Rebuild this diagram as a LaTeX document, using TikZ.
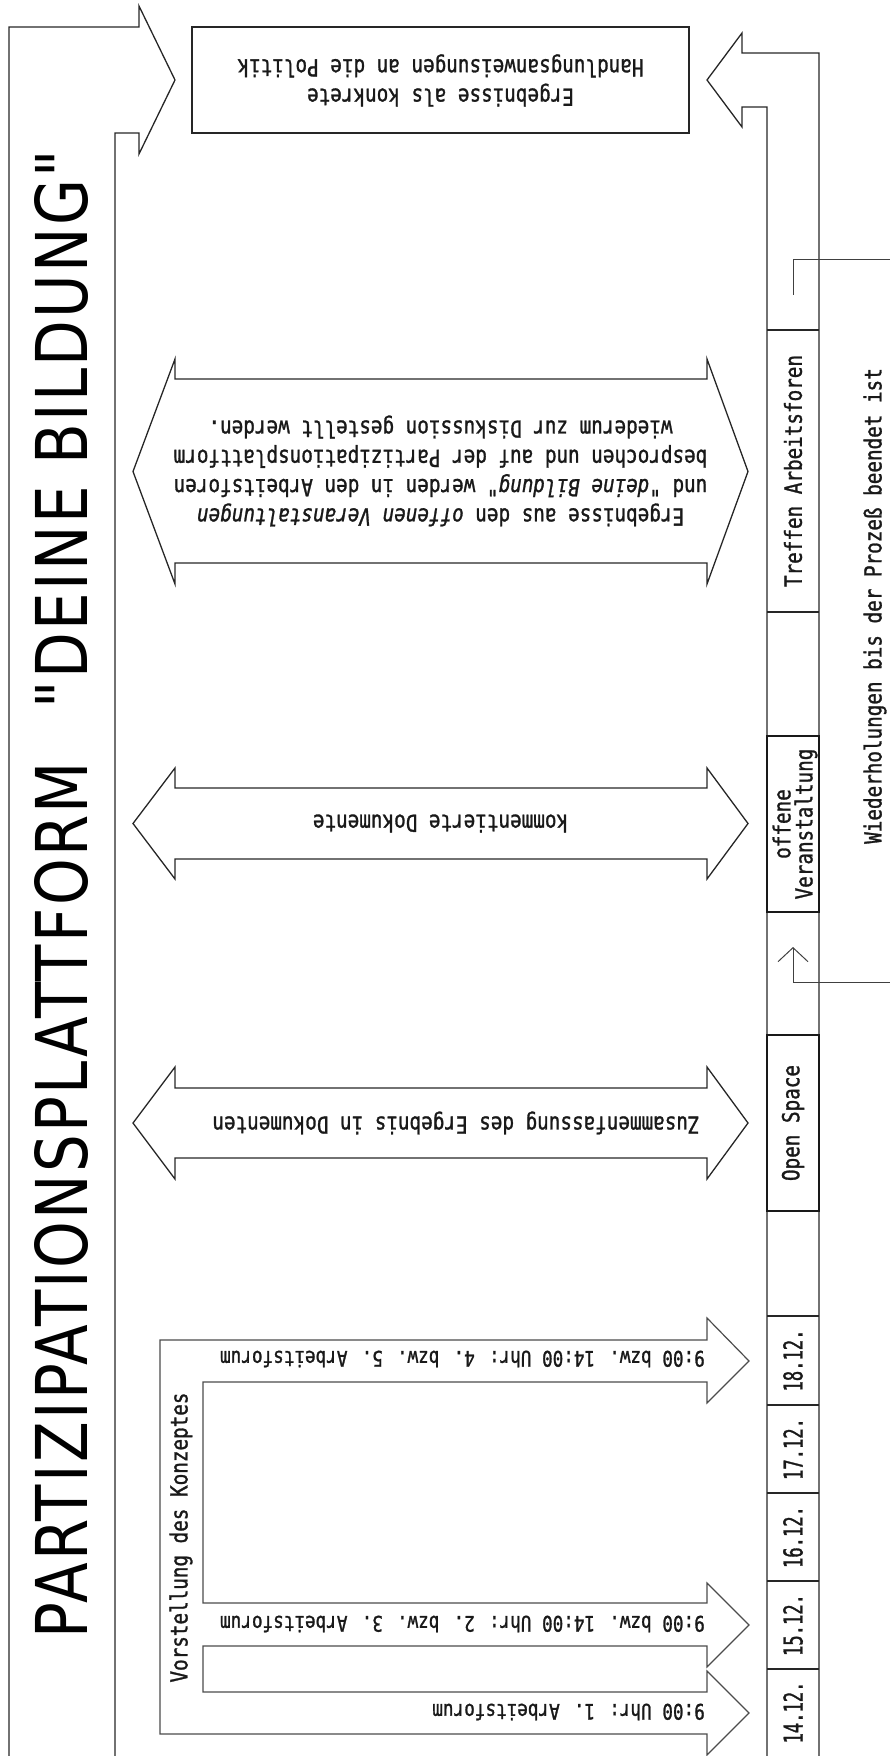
\documentclass[tikz,border=0pt]{standalone}
\usepackage{fontspec}
\usepackage{graphicx}
\usetikzlibrary{arrows.meta}
\newfontfamily\isofont[FakeStretch=0.82,FakeBold=1.2]{DejaVu Sans Mono}
\newfontfamily\isodate[FakeStretch=0.66,FakeBold=1.2]{DejaVu Sans Mono}
\newfontfamily\titlefont[LetterSpace=4]{DejaVu Sans}
\begin{document}
\begin{tikzpicture}[x=1pt,y=-1pt,
  outl/.style={draw=black!85, line width=1.3pt, line join=miter},
  combo/.style={draw=black!70, line width=1.2pt, line join=miter},
  cellthick/.style={draw=black!90, line width=2.2pt},
  conn/.style={draw=black!75, line width=1pt},
  lbl/.style={font=\isofont\fontsize{23.5}{29.3}\selectfont, inner sep=0pt, align=center, text=black!90},
  arrlbl/.style={font=\isofont\fontsize{21.5}{27}\selectfont, inner sep=0pt, text=black!90},
  datelbl/.style={font=\isodate\fontsize{26}{30}\selectfont, inner sep=0pt, text=black!90},
]
\useasboundingbox (0,0) rectangle (890,1756);

% title arrow
\draw[outl] (9,1757) -- (9,27) -- (139,27) -- (139,6) -- (175,80) -- (139,154) -- (139,133) -- (115,133) -- (115,1757);
\node[rotate=90, inner sep=0pt] (title) at (61.5,894) {\resizebox{1488pt}{53pt}{\titlefont PARTIZIPATIONSPLATTFORM\hspace{0.9em}"DEINE BILDUNG"}};

% result box
\node[outl, minimum width=497pt, minimum height=106pt, inner sep=0pt] (result) at (440.5,80) {};
\node[lbl, rotate=180] (resulttxt) at (440.5,80.5) {Ergebnisse als konkrete\\Handlungsanweisungen an die Politik};

% right bent arrow and time strip
\draw[outl] (819,1757) -- (819,53) -- (742,53) -- (742,33) -- (707,80) -- (742,127) -- (742,107) -- (767,107) -- (767,1757);
\foreach \yy in {330,612,1316,1405,1493,1581,1669} \draw[outl] (767,\yy) -- (819,\yy);
\draw[cellthick] (767,736) rectangle (819,912);
\draw[cellthick] (767,1035) rectangle (819,1211);

\node[lbl, rotate=90] (treffen) at (793,471) {Treffen Arbeitsforen};
\node[lbl, rotate=90, font=\isofont\fontsize{23.5}{22}\selectfont] (offene) at (795,824) {offene\\Veranstaltung};
\node[lbl, rotate=90] (openspace) at (793,1123) {Open Space};
\node[datelbl, rotate=90] (d18) at (793,1360.5) {18.12.};
\node[datelbl, rotate=90] (d17) at (793,1449) {17.12.};
\node[datelbl, rotate=90] (d16) at (793,1537) {16.12.};
\node[datelbl, rotate=90] (d15) at (793,1625) {15.12.};
\node[datelbl, rotate=90] (d14) at (793,1712.5) {14.12.};

% repetition connectors
\coordinate (repTop) at (890,259);
\coordinate (repTopEnd) at (793,295);
\draw[conn] (repTop) -| (repTopEnd);
\coordinate (repBot) at (890,982);
\coordinate (repBotEnd) at (793,947);
\draw[conn, -{Straight Barb[length=14pt,width=30pt]}] (repBot) -| (repBotEnd);
\node[lbl, rotate=90] (wieder) at (875,606) {Wiederholungen bis der Prozeß beendet ist};

% double arrows
\draw[outl] (133,471.5) -- (175,359) -- (175,379) -- (707,379) -- (707,359) -- (748,471.5) -- (707,584) -- (707,563) -- (175,563) -- (175,584) -- cycle;
\draw[outl] (133,823.5) -- (175,768) -- (175,788) -- (707,788) -- (707,768) -- (748,823.5) -- (707,879) -- (707,859) -- (175,859) -- (175,879) -- cycle;
\draw[outl] (133,1123) -- (175,1067) -- (175,1088) -- (707,1088) -- (707,1067) -- (748,1123) -- (707,1179) -- (707,1158) -- (175,1158) -- (175,1179) -- cycle;

\node[lbl, rotate=180] (atxt) at (440.5,471) {Ergebnisse aus den \textit{offenen Veranstaltungen}\\und \textit{"deine Bildung"} werden in den Arbeitsforen\\besprochen und auf der Partizipationsplattform\\wiederum zur Diskussion gestellt werden.};
\node[lbl, rotate=180] (btxt) at (440.5,823.5) {kommentierte Dokumente};
\node[lbl, rotate=180] (ctxt) at (456,1123) {Zusammenfassung des Ergebnis in Dokumenten};

% comb of forum arrows
\draw[combo] (160,1734) -- (160,1340) -- (707,1340) -- (707,1318) -- (749,1361) -- (707,1403) -- (707,1382) -- (203,1382) -- (203,1603) -- (707,1603) -- (707,1583) -- (749,1625) -- (707,1667) -- (707,1646) -- (203,1646) -- (203,1692) -- (707,1692) -- (707,1671) -- (749,1713) -- (707,1755) -- (707,1734) -- cycle;
\node[arrlbl, rotate=180, anchor=west] (f45) at (705,1359) {9:00 bzw. 14:00 Uhr: 4. bzw. 5. Arbeitsforum};
\node[arrlbl, rotate=180, anchor=west] (f23) at (705,1624) {9:00 bzw. 14:00 Uhr: 2. bzw. 3. Arbeitsforum};
\node[arrlbl, rotate=180, anchor=west] (f1) at (705,1712) {9:00 Uhr: 1. Arbeitsforum};
\node[lbl, rotate=90] (vorst) at (181,1537.5) {Vorstellung des Konzeptes};
\end{tikzpicture}
\end{document}
